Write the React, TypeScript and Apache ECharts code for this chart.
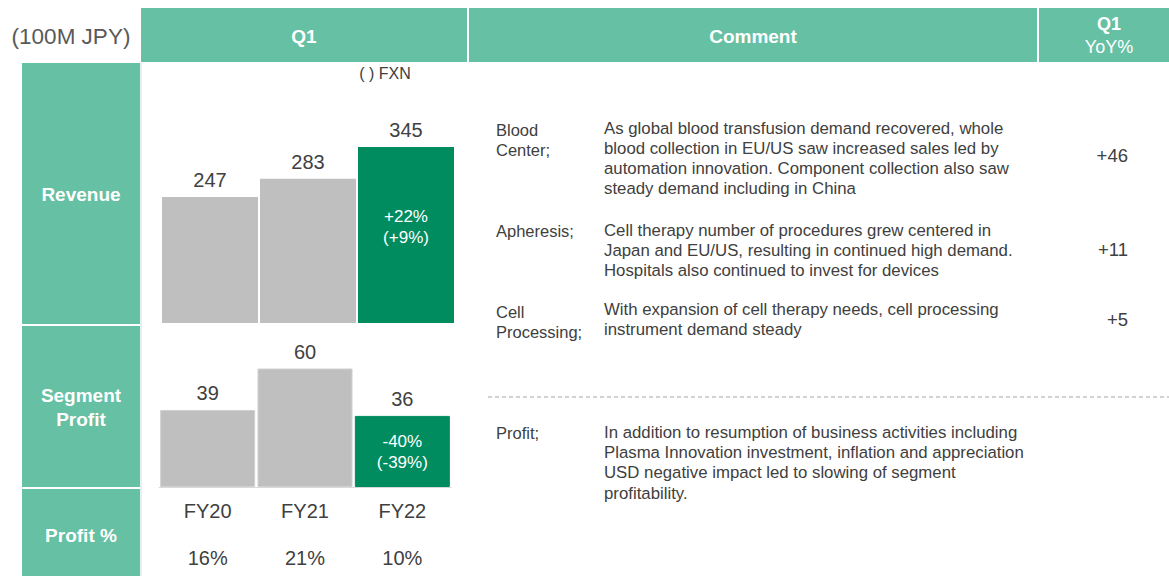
import React, { useEffect, useRef } from "react";
import * as echarts from "echarts";

const categories = ["FY20", "FY21", "FY22"];
const revenue = [247, 283, 345];
const profit = [39, 60, 36];
const profitPct = ["16%", "21%", "10%"];
const revenueGrowth = "+22%\n(+9%)";
const profitGrowth = "-40%\n(-39%)";

const segLabels = ["Blood\nCenter;", "Apheresis;", "Cell\nProcessing;"];
const segComments = [
  "As global blood transfusion demand recovered, whole\nblood collection in EU/US saw increased sales led by\nautomation innovation. Component collection also saw\nsteady demand including in China",
  "Cell therapy number of procedures grew centered in\nJapan and EU/US, resulting in continued high demand.\nHospitals also continued to invest for devices",
  "With expansion of cell therapy needs, cell processing\ninstrument demand steady",
];
const segYoY = ["+46", "+11", "+5"];
const profitLabel = "Profit;";
const profitComment =
  "In addition to resumption of business activities including\nPlasma Innovation investment, inflation and appreciation\nUSD negative impact led to slowing of segment\nprofitability.";

const MINT = "#66c0a3";
const GREEN = "#008c5f";
const GRAY = "#bfbfbf";
const TXT = "#404040";
const FONT = "Liberation Sans, Arial, sans-serif";

export default function App() {
  const ref = useRef<HTMLDivElement>(null);
  useEffect(() => {
    if (!ref.current) return;
    const chart = echarts.init(ref.current, null, { renderer: "svg" });

    const segLabelY = [130, 231, 312];
    const segCommentY = [128, 230, 309];
    const segYoYY = [155, 249, 319];

    const graphic: any[] = [
      { type: "rect", shape: { x: 141, y: 8, width: 326, height: 54 }, style: { fill: MINT } },
      { type: "rect", shape: { x: 469, y: 8, width: 568, height: 54 }, style: { fill: MINT } },
      { type: "rect", shape: { x: 1039, y: 8, width: 130, height: 54 }, style: { fill: MINT } },
      { type: "rect", shape: { x: 22, y: 63, width: 118, height: 261 }, style: { fill: MINT } },
      { type: "rect", shape: { x: 22, y: 326, width: 118, height: 161 }, style: { fill: MINT } },
      { type: "rect", shape: { x: 22, y: 489, width: 118, height: 90 }, style: { fill: MINT } },
      { type: "line", shape: { x1: 141, y1: 63, x2: 141, y2: 576 }, style: { stroke: "#c6e8dc", lineWidth: 1 } },
      {
        type: "text",
        style: { text: "(100M JPY)", x: 71, y: 36, fill: "#595959", font: `22.5px ${FONT}`, textAlign: "center", textVerticalAlign: "middle" },
      },
      {
        type: "text",
        style: { text: "Q1", x: 304, y: 36, fill: "#fff", font: `bold 19px ${FONT}`, textAlign: "center", textVerticalAlign: "middle" },
      },
      {
        type: "text",
        style: { text: "Comment", x: 753, y: 36, fill: "#fff", font: `bold 19px ${FONT}`, textAlign: "center", textVerticalAlign: "middle" },
      },
      {
        type: "text",
        style: { text: "Q1", x: 1109, y: 24, fill: "#fff", font: `bold 18px ${FONT}`, textAlign: "center", textVerticalAlign: "middle" },
      },
      {
        type: "text",
        style: { text: "YoY%", x: 1109, y: 47, fill: "#fff", font: `18px ${FONT}`, textAlign: "center", textVerticalAlign: "middle" },
      },
      {
        type: "text",
        style: { text: "Revenue", x: 81, y: 194, fill: "#fff", font: `bold 19px ${FONT}`, textAlign: "center", textVerticalAlign: "middle" },
      },
      {
        type: "text",
        style: { text: "Segment\nProfit", x: 81, y: 407, fill: "#fff", font: `bold 19px ${FONT}`, lineHeight: 24, textAlign: "center", textVerticalAlign: "middle" },
      },
      {
        type: "text",
        style: { text: "Profit %", x: 81, y: 535, fill: "#fff", font: `bold 19px ${FONT}`, textAlign: "center", textVerticalAlign: "middle" },
      },
      {
        type: "text",
        style: { text: "( ) FXN", x: 385, y: 73, fill: TXT, font: `16px ${FONT}`, textAlign: "center", textVerticalAlign: "middle" },
      },
      {
        type: "line",
        shape: { x1: 488, y1: 397, x2: 1169, y2: 397 },
        style: { stroke: "#a6a6a6", lineWidth: 1, lineDash: [4, 3] },
      },
      {
        type: "text",
        style: { text: profitLabel, x: 496, y: 423, fill: TXT, font: `16.5px ${FONT}`, lineHeight: 20, textAlign: "left", textVerticalAlign: "top" },
      },
      {
        type: "text",
        style: { text: profitComment, x: 604, y: 422, fill: TXT, font: `16.8px ${FONT}`, lineHeight: 20.3, textAlign: "left", textVerticalAlign: "top" },
      },
    ];
    segLabels.forEach((t, i) => {
      graphic.push({
        type: "text",
        style: { text: t, x: 496, y: segLabelY[i] - 10, fill: TXT, font: `16.5px ${FONT}`, lineHeight: 20, textAlign: "left", textVerticalAlign: "top" },
      });
      graphic.push({
        type: "text",
        style: { text: segComments[i], x: 604, y: segCommentY[i] - 10, fill: TXT, font: `16.8px ${FONT}`, lineHeight: 20, textAlign: "left", textVerticalAlign: "top" },
      });
      graphic.push({
        type: "text",
        style: { text: segYoY[i], x: 1128, y: segYoYY[i], fill: TXT, font: `18.5px ${FONT}`, textAlign: "right", textVerticalAlign: "middle" },
      });
    });

    const valueLabel = {
      show: true,
      position: "top",
      distance: 7,
      color: TXT,
      fontSize: 20,
      fontFamily: FONT,
    };

    chart.setOption({
      animation: false,
      grid: [
        { left: 161, top: 98.6, width: 294, height: 224.4 },
        { left: 159, top: 329, width: 292, height: 158 },
      ],
      xAxis: [
        { type: "category", data: categories, gridIndex: 0, show: false },
        {
          type: "category",
          data: categories,
          gridIndex: 1,
          axisLine: { lineStyle: { color: "#d9d9d9" } },
          axisTick: { show: false },
          axisLabel: {
            margin: 0,
            formatter: (v: string, idx: number) => `{a|${v}}\n{a|${profitPct[idx]}}`,
            rich: { a: { fontSize: 20, color: TXT, fontFamily: FONT, lineHeight: 47 } },
          },
        },
      ],
      yAxis: [
        { type: "value", gridIndex: 0, min: 0, max: 440, show: false },
        { type: "value", gridIndex: 1, min: 0, max: 80, show: false },
      ],
      graphic,
      series: [
        {
          type: "bar",
          xAxisIndex: 0,
          yAxisIndex: 0,
          barWidth: 96,
          data: revenue.map((v, i) => ({
            value: v,
            itemStyle: { color: i === 2 ? GREEN : GRAY },
          })),
          label: valueLabel,
        },
        {
          type: "bar",
          xAxisIndex: 0,
          yAxisIndex: 0,
          barWidth: 96,
          barGap: "-100%",
          silent: true,
          itemStyle: { color: "transparent" },
          data: revenue.map((v, i) => ({
            value: v,
            label:
              i === 2
                ? {
                    show: true,
                    formatter: revenueGrowth,
                    position: ["50%", 80],
                    align: "center",
                    verticalAlign: "middle",
                    color: "#fff",
                    fontSize: 17,
                    lineHeight: 21,
                    fontFamily: FONT,
                  }
                : { show: false },
          })),
        },
        {
          type: "bar",
          xAxisIndex: 1,
          yAxisIndex: 1,
          barWidth: 95,
          data: profit.map((v, i) => ({
            value: v,
            itemStyle: { color: i === 2 ? GREEN : GRAY, borderColor: i === 2 ? GREEN : "#d0d0d0", borderWidth: 1 },
          })),
          label: valueLabel,
        },
        {
          type: "bar",
          xAxisIndex: 1,
          yAxisIndex: 1,
          barWidth: 95,
          barGap: "-100%",
          silent: true,
          itemStyle: { color: "transparent" },
          data: profit.map((v, i) => ({
            value: v,
            label:
              i === 2
                ? {
                    show: true,
                    formatter: profitGrowth,
                    position: ["50%", 36],
                    align: "center",
                    verticalAlign: "middle",
                    color: "#fff",
                    fontSize: 17,
                    lineHeight: 21,
                    fontFamily: FONT,
                  }
                : { show: false },
          })),
        },
      ],
    });
    return () => chart.dispose();
  }, []);
  return (
    <div
      ref={ref}
      style={{ position: "fixed", left: 0, top: 0, width: 1169, height: 576, background: "#fff" }}
    />
  );
}
